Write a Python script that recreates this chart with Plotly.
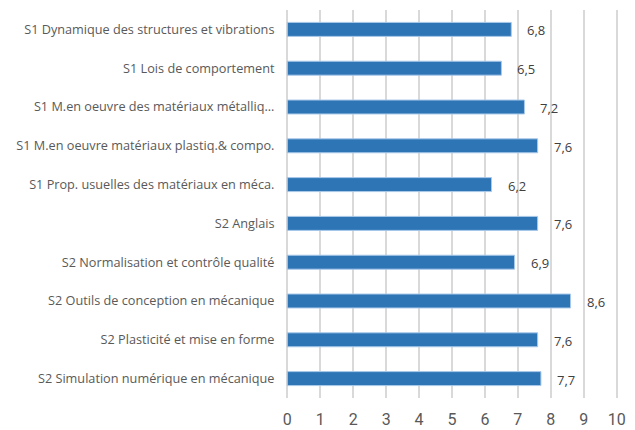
import plotly.graph_objects as go

# Average marks per course (top to bottom as displayed)
courses = [
    "S1 Dynamique des structures et vibrations",
    "S1 Lois de comportement",
    "S1 M.en oeuvre des matériaux métalliq...",
    "S1 M.en oeuvre matériaux plastiq.& compo.",
    "S1 Prop. usuelles des matériaux en méca.",
    "S2 Anglais",
    "S2 Normalisation et contrôle qualité",
    "S2 Outils de conception en mécanique",
    "S2 Plasticité et mise en forme",
    "S2 Simulation numérique en mécanique",
]
marks = [6.8, 6.5, 7.2, 7.6, 6.2, 7.6, 6.9, 8.6, 7.6, 7.7]
x_ticks = list(range(0, 11))

fig = go.Figure()
fig.add_trace(go.Bar(
    y=courses,
    x=marks,
    orientation="h",
    marker=dict(color="#2e75b6", line=dict(color="#a9c9ea", width=1)),
    hoverinfo="skip",
))

# Value labels to the right of each bar, with comma decimal separator
for c, v in zip(courses, marks):
    fig.add_annotation(
        x=v, y=c, xref="x", yref="y",
        text=f"{v:.1f}".replace(".", ","),
        showarrow=False, xanchor="left", xshift=14, yshift=-1,
        font=dict(family="Open Sans", size=13, color="#404040"),
    )

# Range padded slightly so the grid lines at 0 and 10 stay visible
fig.update_layout(
    width=635, height=430,
    margin=dict(l=286, r=17, t=10, b=32),
    paper_bgcolor="white", plot_bgcolor="white",
    bargap=0.64,
    showlegend=False,
    xaxis=dict(
        range=[-0.04, 10.04], tickvals=x_ticks, ticktext=[str(t) for t in x_ticks],
        showgrid=True, gridcolor="#d9d9d9", gridwidth=2,
        zeroline=False, showline=False,
        ticks="outside", ticklen=7, tickcolor="rgba(0,0,0,0)",
        tickfont=dict(family="Roboto", size=16, color="#595959"),
        automargin=False, fixedrange=True,
    ),
    yaxis=dict(
        categoryorder="array", categoryarray=courses[::-1],
        showgrid=False, zeroline=False, showline=False,
        ticks="outside", ticklen=8, tickcolor="rgba(0,0,0,0)",
        tickfont=dict(family="Open Sans", size=12.7, color="#595959"),
        automargin=False, fixedrange=True,
    ),
)

fig.write_html("out.html")
